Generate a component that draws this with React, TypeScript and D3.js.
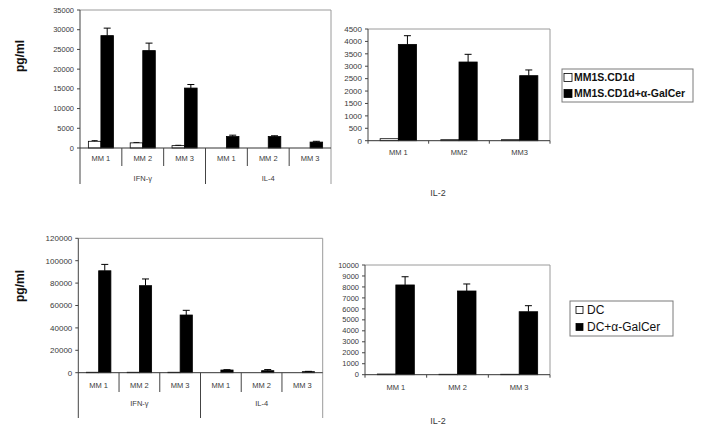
import React from "react";
import * as d3 from "d3";

// ---------- data ----------
const groupsLeft = ["IFN-γ", "IL-4"];
const catsLeft = ["MM 1", "MM 2", "MM 3", "MM 1", "MM 2", "MM 3"];
const catsTopRight = ["MM 1", "MM2", "MM3"];
const catsBottomRight = ["MM 1", "MM 2", "MM 3"];

// top-left (MM1S.CD1d vs MM1S.CD1d+α-GalCer), IFN-γ + IL-4
const tlWhite = [1700, 1300, 600, 0, 0, 0];
const tlWhiteErr = [200, 100, 100, 0, 0, 0];
const tlBlack = [28500, 24700, 15200, 2900, 2900, 1500];
const tlBlackErr = [1900, 1900, 900, 350, 200, 200];
const tlTicks = [0, 5000, 10000, 15000, 20000, 25000, 30000, 35000];

// top-right IL-2
const trWhite = [80, 40, 40];
const trBlack = [3880, 3170, 2620];
const trBlackErr = [350, 310, 230];
const trTicks = [0, 500, 1000, 1500, 2000, 2500, 3000, 3500, 4000, 4500];

// bottom-left (DC vs DC+α-GalCer)
const blWhite = [400, 400, 400, 0, 0, 0];
const blBlack = [91000, 77700, 51500, 2400, 1800, 900];
const blBlackErr = [5700, 6000, 4200, 300, 1000, 300];
const blTicks = [0, 20000, 40000, 60000, 80000, 100000, 120000];

// bottom-right IL-2
const brWhite = [60, 40, 40];
const brBlack = [8180, 7630, 5740];
const brBlackErr = [750, 640, 550];
const brTicks = [0, 1000, 2000, 3000, 4000, 5000, 6000, 7000, 8000, 9000, 10000];

const legendTop = ["MM1S.CD1d", "MM1S.CD1d+α-GalCer"];
const legendBottom = ["DC", "DC+α-GalCer"];

const FONT = "'Liberation Sans', Arial, sans-serif";
const TXT = "#3a3a3a";

type PanelProps = {
  left: number; right: number; top: number; zero: number;
  max: number; ticks: number[];
  cats: string[];
  white: number[]; whiteErr?: number[];
  black: number[]; blackErr: number[];
  tickFont: number; catFont: number;
  catY: number;
  groups?: string[];
  catSepBottom?: number; bottom?: number; groupY?: number;
};

function Panel(p: PanelProps) {
  const x = d3.scaleBand<number>()
    .domain(p.cats.map((_, i) => i))
    .range([p.left, p.right])
    .paddingInner(0).paddingOuter(0);
  const y = d3.scaleLinear().domain([0, p.max]).range([p.zero, p.top]);
  const step = x.step();
  const bw = step * 0.3;
  const multi = !!p.groups;
  const bottom = multi ? p.bottom! : p.zero;
  const perGroup = multi ? p.cats.length / p.groups!.length : p.cats.length;

  return (
    <g>
      {/* frame top & right */}
      <line x1={p.left} x2={p.right} y1={p.top} y2={p.top} stroke="#9a9a9a" strokeWidth={1} />
      <line x1={p.right} x2={p.right} y1={p.top} y2={bottom} stroke="#9a9a9a" strokeWidth={1} />
      {/* y axis */}
      <line x1={p.left} x2={p.left} y1={p.top} y2={bottom} stroke="#444" strokeWidth={1} />
      {p.ticks.map((t) => (
        <g key={t}>
          <line x1={p.left - 3} x2={p.left} y1={y(t)} y2={y(t)} stroke="#444" />
          <text x={p.left - 6} y={y(t)} dy="0.35em" textAnchor="end"
            fontSize={p.tickFont} fill={TXT} fontFamily={FONT}>{t}</text>
        </g>
      ))}
      {/* bars */}
      {p.cats.map((_, i) => {
        const c = x(i)! + step / 2;
        const wv = p.white[i];
        const bv = p.black[i];
        const we = p.whiteErr ? p.whiteErr[i] : 0;
        const be = p.blackErr[i];
        return (
          <g key={i}>
            {wv > 0 && (
              <rect x={c - bw} y={y(wv)} width={bw} height={y(0) - y(wv)}
                fill="#fff" stroke="#000" strokeWidth={0.8} />
            )}
            {we > 0 && (
              <g stroke="#000" strokeWidth={0.8}>
                <line x1={c - bw / 2} x2={c - bw / 2} y1={y(wv)} y2={y(wv + we)} />
                <line x1={c - bw / 2 - 3} x2={c - bw / 2 + 3} y1={y(wv + we)} y2={y(wv + we)} />
              </g>
            )}
            {bv > 0 && (
              <rect x={c} y={y(bv)} width={bw} height={y(0) - y(bv)}
                fill="#000" stroke="#000" strokeWidth={0.8} />
            )}
            {be > 0 && (
              <g stroke="#000" strokeWidth={1}>
                <line x1={c + bw / 2} x2={c + bw / 2} y1={y(bv)} y2={y(bv + be)} />
                <line x1={c + bw / 2 - 3.5} x2={c + bw / 2 + 3.5} y1={y(bv + be)} y2={y(bv + be)} />
              </g>
            )}
          </g>
        );
      })}
      {/* x axis */}
      <line x1={p.left} x2={p.right} y1={p.zero} y2={p.zero} stroke="#333" strokeWidth={1} />
      {p.cats.map((c, i) => (
        <text key={"c" + i} x={x(i)! + step / 2} y={p.catY} dy="0.35em" textAnchor="middle"
          fontSize={p.catFont} fill={TXT} fontFamily={FONT}>{c}</text>
      ))}
      {multi ? (
        <g>
          {p.cats.map((_, i) => {
            if (i === 0) return null;
            const isGroup = i % perGroup === 0;
            return (
              <line key={"s" + i} x1={x(i)!} x2={x(i)!} y1={p.zero}
                y2={isGroup ? p.bottom! : p.catSepBottom!} stroke="#444" strokeWidth={1} />
            );
          })}
          {p.groups!.map((g, gi) => {
            const gx = (x(gi * perGroup)! + x(gi * perGroup + perGroup - 1)! + step) / 2;
            return (
              <text key={"g" + gi} x={gx} y={p.groupY!} dy="0.35em" textAnchor="middle"
                fontSize={p.catFont} fill={TXT} fontFamily={FONT}>{g}</text>
            );
          })}
        </g>
      ) : (
        <g>
          {d3.range(p.cats.length + 1).map((i) => {
            const bx = i < p.cats.length ? x(i)! : p.right;
            return <line key={"t" + i} x1={bx} x2={bx} y1={p.zero} y2={p.zero + 3} stroke="#444" />;
          })}
        </g>
      )}
    </g>
  );
}

function Legend(props: { x: number; y: number; w: number; h: number; labels: string[];
  font: number; bold: boolean; sq: number; rowY: number[]; textX: number; sqX: number }) {
  return (
    <g>
      <rect x={props.x} y={props.y} width={props.w} height={props.h} fill="#fff" stroke="#7a7a7a" strokeWidth={1} />
      {props.labels.map((l, i) => (
        <g key={l}>
          <rect x={props.sqX} y={props.rowY[i] - props.sq / 2} width={props.sq} height={props.sq}
            fill={i === 0 ? "#fff" : "#000"} stroke="#000" strokeWidth={0.8} />
          <text x={props.textX} y={props.rowY[i]} dy="0.35em" fontSize={props.font}
            fontWeight={props.bold ? "bold" : "normal"} fill="#111" fontFamily={FONT}>{l}</text>
        </g>
      ))}
    </g>
  );
}

export default function App() {
  return (
    <svg width={704} height={434} style={{ position: "absolute", left: 0, top: 0, background: "#fff" }}>
      <rect x={0} y={0} width={704} height={434} fill="#fff" />
      {/* y labels */}
      <text transform="translate(24,56) rotate(-90)" textAnchor="middle" fontSize={12}
        fontWeight="bold" fill="#111" fontFamily={FONT}>pg/ml</text>
      <text transform="translate(24,286) rotate(-90)" textAnchor="middle" fontSize={12}
        fontWeight="bold" fill="#111" fontFamily={FONT}>pg/ml</text>

      <Panel left={80} right={331} top={10} zero={148} max={35000} ticks={tlTicks}
        cats={catsLeft} white={tlWhite} whiteErr={tlWhiteErr} black={tlBlack} blackErr={tlBlackErr}
        tickFont={7.5} catFont={7.5} catY={158} groups={groupsLeft}
        catSepBottom={166} bottom={184} groupY={178} />

      <Panel left={368} right={550} top={29} zero={140.7} max={4500} ticks={trTicks}
        cats={catsTopRight} white={trWhite} black={trBlack} blackErr={trBlackErr}
        tickFont={8} catFont={7.5} catY={152} />
      <text x={438} y={193} dy="0.35em" textAnchor="middle" fontSize={9} fill={TXT} fontFamily={FONT}>IL-2</text>

      <Panel left={78.3} right={322.7} top={238.3} zero={372.7} max={120000} ticks={blTicks}
        cats={catsLeft} white={blWhite} black={blBlack} blackErr={blBlackErr}
        tickFont={8} catFont={7.5} catY={385} groups={groupsLeft}
        catSepBottom={392} bottom={418} groupY={403} />

      <Panel left={365} right={550} top={265} zero={374.7} max={10000} ticks={brTicks}
        cats={catsBottomRight} white={brWhite} black={brBlack} blackErr={brBlackErr}
        tickFont={7.5} catFont={7.5} catY={387} />
      <text x={438} y={421} dy="0.35em" textAnchor="middle" fontSize={9} fill={TXT} fontFamily={FONT}>IL-2</text>

      <Legend x={562} y={69} w={131} h={33} labels={legendTop} font={10.5} bold={true}
        sq={8} rowY={[77.5, 93.5]} sqX={564} textX={574} />
      <Legend x={570} y={301} w={103} h={35} labels={legendBottom} font={12} bold={false}
        sq={7} rowY={[310, 327]} sqX={576} textX={587} />
    </svg>
  );
}
